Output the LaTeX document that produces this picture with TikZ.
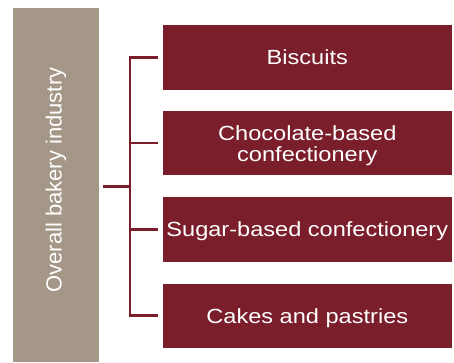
\documentclass[tikz,border=0pt]{standalone}
\usepackage{fontspec}
\setmainfont{Liberation Sans}
\newfontfamily\boxfont[FakeStretch=1.15]{Liberation Sans}
\definecolor{wine}{RGB}{123,30,43}
\definecolor{taupe}{RGB}{164,151,135}
\begin{document}
\begin{tikzpicture}[x=1pt,y=-1pt,
  catbox/.style={fill=wine, draw=none, minimum width=288.8pt, minimum height=64.5pt,
    inner sep=0pt, text=white, font=\boxfont\fontsize{20.5}{21}\selectfont,
    align=center, anchor=north west},
  flat/.style={text depth=0pt},
  conn/.style={draw=wine, line width=2.6pt, line join=miter},
]
\useasboundingbox (0,0) rectangle (454,362);
\node[fill=taupe, minimum width=85.6pt, minimum height=354.7pt, inner sep=0pt,
  anchor=north west] (ovr) at (12.7,7.3) {};
\node[rotate=90, text=white, font=\fontsize{22}{24}\selectfont, inner sep=0pt]
  (ovrtext) at (56,180) {Overall bakery industry};
\node[catbox] (b1) at (162.7,25) {Biscuits};
\node[catbox] (b2) at (162.7,110.7) {\rule{0pt}{19pt}Chocolate-based\\confectionery};
\node[catbox, flat] (b3) at (162.7,197) {Sugar-based confectionery};
\node[catbox, flat] (b4) at (162.7,283.3) {Cakes and pastries};
\coordinate (hub) at (130,186.5);
\draw[conn, shorten <=4.4pt] (hub -| ovr.east) -- (hub);
\draw[conn] ([xshift=-4.4pt]b1.west) -| (hub) |- ([xshift=-4.4pt]b4.west);
\draw[conn] (hub |- b2.west) -- ([xshift=-4.4pt]b2.west);
\draw[conn] (hub |- b3.west) -- ([xshift=-4.4pt]b3.west);
\end{tikzpicture}
\end{document}
